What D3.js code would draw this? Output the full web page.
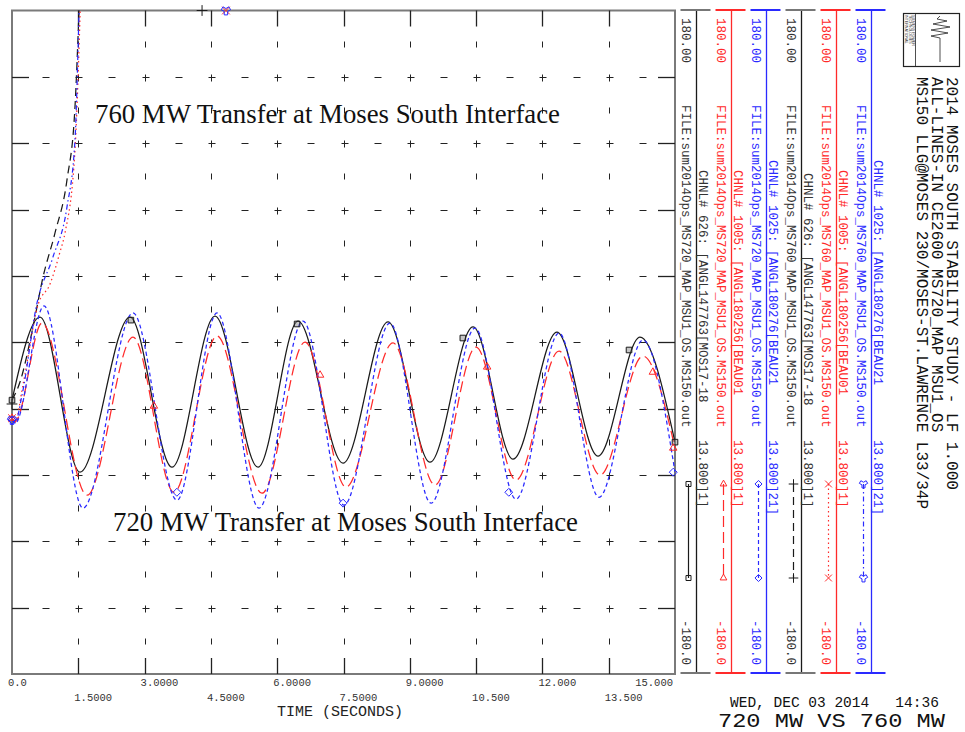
<!DOCTYPE html>
<html lang="en">
<head>
<meta charset="UTF-8" />
<title>720 MW VS 760 MW</title>
<script src="https://d3js.org/d3.v7.min.js"></script>
<style>
  body { margin: 0; background: #fff; }
  svg { display: block; }
  .mono { font-family: "Liberation Mono", "DejaVu Sans Mono", monospace; }
  .serif { font-family: "Liberation Serif", "DejaVu Serif", serif; }
</style>
</head>
<body>
<svg id="chart" width="965" height="732"></svg>
<script>
// axis ticks (seconds / degrees)
const timeTicks = [0, 1.5, 3, 4.5, 6, 7.5, 9, 10.5, 12, 13.5, 15];
const timeLabels = ["0.0", "1.5000", "3.0000", "4.5000", "6.0000", "7.5000", "9.0000", "10.500", "12.000", "13.500", "15.000"];
const angleTicks = [-180, -144, -108, -72, -36, 0, 36, 72, 108, 144, 180];

// 720 MW case - ANGL147763 (black solid)
const t720Black = [0, 0.633, 1.538, 2.670, 3.620, 4.593, 5.566, 6.471, 7.489, 8.507, 9.457, 10.430, 11.335, 12.330, 13.258, 14.208, 15.0];
const a720Black = [-31.4, 13.7, -70.5, 13.7, -67.8, 14.2, -67.8, 11.5, -65.6, 11.0, -65.1, 8.3, -63.4, 5.5, -61.8, 2.8, -54.2];
// 720 MW case - ANGL180256 (red long dash)
const t720Red = [0, 0.07, 0.679, 1.697, 2.738, 3.665, 4.638, 5.656, 6.629, 7.557, 8.620, 9.570, 10.498, 11.403, 12.376, 13.303, 14.276, 15.0];
const a720Red = [-41.2, -43.0, 10.4, -83.0, 2.8, -81.4, 3.4, -81.9, 0.1, -78.6, -0.4, -77.5, -2.6, -74.8, -4.8, -72.1, -7.5, -57.4];
// 720 MW case - ANGL180276 (blue short dash)
const t720Blue = [0, 0.07, 0.724, 1.606, 2.738, 3.733, 4.638, 5.588, 6.584, 7.511, 8.552, 9.480, 10.475, 11.403, 12.376, 13.281, 14.276, 15.0];
const a720Blue = [-42.2, -44.0, 19.7, -90.0, 15.9, -85.7, 15.9, -90.0, 11.5, -88.4, 10.4, -87.3, 7.7, -85.1, 5.0, -84.1, 1.2, -70.5];

// 760 MW case (loses synchronism)
const t760Black = [0, 0.181, 0.475, 0.701, 0.973, 1.244, 1.425, 1.516, 1.56];
const a760Black = [-31.4, -21.6, 8.3, 35.3, 59.3, 88.1, 127.7, 180, 210];
const t760Red = [0, 0.068, 0.249, 0.588, 0.860, 1.086, 1.199, 1.425, 1.538, 1.56];
const a760Red = [-41.2, -43.3, -23.0, 20.2, 31.6, 49.0, 59.3, 104.4, 176.6, 195];
const t760Blue = [0, 0.068, 0.226, 0.566, 0.928, 1.244, 1.425, 1.516, 1.54];
const a760Blue = [-42.2, -43.8, -28.8, 21.3, 46.3, 73.4, 109.8, 178.7, 200];

// channel markers
const m720BlackT = [0, 2.69, 6.45, 10.2, 13.96, 15];
const m720BlackA = [-31.4, 12.0, 9.9, 2.3, -4.2, -54.2];
const m720RedT = [0, 3.21, 6.97, 10.75, 14.5, 14.96];
const m720RedA = [-41.2, -34.6, -17.8, -13.4, -16.2, -57.4];
const m720BlueT = [0, 3.73, 7.49, 11.24, 14.96];
const m720BlueA = [-42.2, -81.4, -87.3, -81.4, -70.5];
const m760BlackT = [0, 4.30];
const m760BlackA = [-33.5, 180];
const m760RedT = [0, 4.84];
const m760RedA = [-41.2, 180];
const m760BlueT = [0, 4.84];
const m760BlueA = [-42.2, 180];

// legend text
const chnlLabels = [
  "CHNL# 626: [ANGL147763[MOS17-18",
  "CHNL# 1005: [ANGL180256[BEAU01",
  "CHNL# 1025: [ANGL180276[BEAU21",
  "CHNL# 626: [ANGL147763[MOS17-18",
  "CHNL# 1005: [ANGL180256[BEAU01",
  "CHNL# 1025: [ANGL180276[BEAU21"
];
const chnlTails = ["13.800]1]", "13.800]1]", "13.800]21]", "13.800]1]", "13.800]1]", "13.800]21]"];
const fileLabels = [
  "FILE:sum2014Ops_MS720_MAP_MSU1_OS.MS150.out",
  "FILE:sum2014Ops_MS720_MAP_MSU1_OS.MS150.out",
  "FILE:sum2014Ops_MS720_MAP_MSU1_OS.MS150.out",
  "FILE:sum2014Ops_MS760_MAP_MSU1_OS.MS150.out",
  "FILE:sum2014Ops_MS760_MAP_MSU1_OS.MS150.out",
  "FILE:sum2014Ops_MS760_MAP_MSU1_OS.MS150.out"
];
const maxLabel = "180.00";
const minLabel = "-180.0";
const titleLines = [
  "2014 MOSES SOUTH STABILITY STUDY - LF 1.000",
  "ALL-LINES-IN CE2600 MS720_MAP MSU1_OS",
  "MS150 LLG@MOSES 230/MOSES-ST.LAWRENCE L33/34P"
];
const dateText = "WED, DEC 03 2014   14:36";
const footerText = "720 MW VS 760 MW";
const upperNote = "760 MW Transfer at Moses South Interface";
const lowerNote = "720 MW Transfer at Moses South Interface";

const BLACK = "#1a1a1a", RED = "#ff2a2a", BLUE = "#2a2aff";

const series = [
  { t: t720Black, a: a720Black, mt: m720BlackT, ma: m720BlackA, color: BLACK, dash: null, sym: d3.symbolSquare2 },
  { t: t720Red, a: a720Red, mt: m720RedT, ma: m720RedA, color: RED, dash: "11,5", sym: d3.symbolTriangle2 },
  { t: t720Blue, a: a720Blue, mt: m720BlueT, ma: m720BlueA, color: BLUE, dash: "4,3", sym: d3.symbolDiamond2 },
  { t: t760Black, a: a760Black, mt: m760BlackT, ma: m760BlackA, color: BLACK, dash: "8,5", sym: d3.symbolPlus },
  { t: t760Red, a: a760Red, mt: m760RedT, ma: m760RedA, color: RED, dash: "1.5,3", sym: d3.symbolTimes },
  { t: t760Blue, a: a760Blue, mt: m760BlueT, ma: m760BlueA, color: BLUE, dash: "5,3,1.5,3", sym: d3.symbolWye }
];

const svg = d3.select("#chart");
const x = d3.scaleLinear().domain([0, 15]).range([12, 675]);
const y = d3.scaleLinear().domain([-180, 180]).range([674, 10.5]);
const px = v => Math.round(x(v)) + 0.5;
const py = v => Math.round(y(v)) + 0.5;

svg.append("clipPath").attr("id", "plotClip").append("rect")
  .attr("x", x(0)).attr("y", y(180))
  .attr("width", x(15) - x(0)).attr("height", y(-180) - y(180));

// grid marks: + at majors, - and ' at half steps
const inner = arr => arr.slice(1, -1);
const halfT = timeTicks.slice(0, -1).map((d, i) => (d + timeTicks[i + 1]) / 2);
const halfA = angleTicks.slice(0, -1).map((d, i) => (d + angleTicks[i + 1]) / 2);
const grid = svg.append("g").attr("stroke", "#222").attr("stroke-width", 1);
const seg = (g, x1, y1, x2, y2) => g.append("line")
  .attr("x1", x1).attr("y1", y1).attr("x2", x2).attr("y2", y2);

inner(timeTicks).forEach(t => inner(angleTicks).forEach(a => {
  seg(grid, px(t) - 3, py(a), px(t) + 4, py(a));
  seg(grid, px(t), py(a) - 3, px(t), py(a) + 4);
}));
halfT.forEach(t => inner(angleTicks).forEach(a => {
  seg(grid, px(t) - 3, py(a), px(t) + 4, py(a));
}));
inner(timeTicks).forEach(t => halfA.forEach(a => {
  seg(grid, px(t), py(a) - 3, px(t), py(a) + 3);
}));

// frame
svg.append("rect")
  .attr("x", x(0)).attr("y", y(180))
  .attr("width", x(15) - x(0)).attr("height", y(-180) - y(180))
  .attr("fill", "none").attr("stroke", "#7a7a7a").attr("stroke-width", 2);

// axis ticks on all four sides
const ticks = svg.append("g").attr("stroke", "#222").attr("stroke-width", 1.3);
inner(angleTicks).forEach(a => {
  seg(ticks, x(0), py(a), x(0) + 17, py(a));
  seg(ticks, x(15) - 17, py(a), x(15), py(a));
});
inner(timeTicks).forEach(t => {
  seg(ticks, px(t), y(180), px(t), y(180) + 16);
  seg(ticks, px(t), y(-180) - 16, px(t), y(-180));
});

// time labels, staggered on two rows
svg.append("g").attr("class", "mono")
  .style("font-size", "10.5px").attr("fill", "#333")
  .selectAll("text").data(timeTicks).join("text")
  .attr("x", (d, i) => i === timeTicks.length - 1 ? x(d) - 2 : x(d) - 4)
  .attr("y", (d, i) => i % 2 === 0 ? 686 : 701)
  .attr("text-anchor", (d, i) => i === timeTicks.length - 1 ? "end" : "start")
  .text((d, i) => timeLabels[i]);

svg.append("text").attr("class", "mono")
  .attr("x", 340).attr("y", 716)
  .attr("text-anchor", "middle")
  .style("font-size", "15px").attr("fill", "#222")
  .text("TIME (SECONDS)");

// curves
const line = d3.line()
  .x(d => x(d[0])).y(d => y(d[1]))
  .curve(d3.curveMonotoneX);

const curves = svg.append("g").attr("clip-path", "url(#plotClip)");
series.forEach(s => {
  curves.append("path")
    .datum(s.t.map((t, i) => [t, s.a[i]]))
    .attr("d", line)
    .attr("fill", "none")
    .attr("stroke", s.color)
    .attr("stroke-width", 1.25)
    .attr("stroke-dasharray", s.dash);
});

// markers
const markers = svg.append("g");
series.forEach(s => {
  markers.selectAll(null)
    .data(s.mt.map((t, i) => [t, s.ma[i]]))
    .join("path")
    .attr("transform", d => `translate(${x(d[0])},${y(d[1])})`)
    .attr("d", d3.symbol(s.sym, 40))
    .attr("fill", s.sym === d3.symbolSquare2 ? "rgba(128,128,128,0.45)" : "none")
    .attr("stroke", s.color)
    .attr("stroke-width", 1);
});

// annotations inside the plot
svg.append("text").attr("class", "serif")
  .attr("x", 95).attr("y", 123)
  .attr("textLength", 465).attr("lengthAdjust", "spacingAndGlyphs")
  .style("font-size", "26.5px").attr("fill", "#111")
  .text(upperNote);
svg.append("text").attr("class", "serif")
  .attr("x", 113).attr("y", 531)
  .attr("textLength", 465).attr("lengthAdjust", "spacingAndGlyphs")
  .style("font-size", "26.5px").attr("fill", "#111")
  .text(lowerNote);

// channel legend columns (text rotated to read top-down)
const legend = svg.append("g").attr("class", "mono").style("font-size", "12.5px");
const vText = (g, tx, ty, str, color) => g.append("text")
  .attr("transform", `translate(${tx},${ty}) rotate(90)`)
  .attr("fill", color).text(str);
const chnlStart = [170, 170, 160, 173, 170, 160];

series.forEach((s, i) => {
  const lx = 696.5 + i * 35;
  const g = legend.append("g");
  const textCol = s.color === BLACK ? "#333" : s.color;
  seg(g, lx, 10, lx, 673).attr("stroke", s.color).attr("stroke-width", 1.3);
  seg(g, lx - 16, 10, lx + 14, 10).attr("stroke", s.color === BLACK ? "#777" : s.color).attr("stroke-width", 2);
  seg(g, lx - 16, 673, lx + 14, 673).attr("stroke", s.color === BLACK ? "#777" : s.color).attr("stroke-width", 2);

  vText(g, lx - 15, 18, maxLabel, textCol);
  vText(g, lx - 15, 105, fileLabels[i], textCol);
  vText(g, lx - 15, 620, minLabel, textCol);
  vText(g, lx + 2, chnlStart[i], chnlLabels[i], textCol);
  vText(g, lx + 2, 440, chnlTails[i], textCol);

  // line style sample
  const sx = lx - 8;
  seg(g, sx, 484, sx, 578)
    .attr("stroke", s.color).attr("stroke-width", 1.2)
    .attr("stroke-dasharray", s.dash);
  [484, 578].forEach(yy => {
    g.append("path")
      .attr("transform", `translate(${sx},${yy})`)
      .attr("d", d3.symbol(s.sym, 32))
      .attr("fill", "none").attr("stroke", s.color).attr("stroke-width", 1);
  });
});

// study title block
const titleG = svg.append("g").attr("class", "mono").style("font-size", "16px");
titleLines.forEach((str, i) => vText(titleG, 947 - i * 15, 77, str, "#111"));

// logo box
const logo = svg.append("g");
logo.append("rect").attr("x", 903.5).attr("y", 13.5).attr("width", 56).attr("height", 53)
  .attr("fill", "none").attr("stroke", "#222").attr("stroke-width", 1.2);
logo.append("line").attr("x1", 915.5).attr("y1", 13.5).attr("x2", 915.5).attr("y2", 66.5)
  .attr("stroke", "#222").attr("stroke-width", 0.8);
logo.append("path")
  .attr("d", "M940,62 L940,38 L931,36 L948,33 L931,30 L950,27 L933,24 L947,21 L937,19 L940,16")
  .attr("fill", "none").attr("stroke", "#222").attr("stroke-width", 0.8);
["SIEMENS POWER", "TECHNOLOGIES", "INTERNATIONAL"].forEach((str, i) => {
  logo.append("text")
    .attr("transform", `translate(${912 - i * 3.3},15) rotate(90)`)
    .style("font-family", "Liberation Sans, sans-serif").style("font-size", "3.6px")
    .attr("fill", "#333").text(str);
});

// footer
svg.append("text").attr("class", "mono")
  .attr("x", 730).attr("y", 707)
  .style("font-size", "14.5px").attr("fill", "#111")
  .style("white-space", "pre")
  .text(dateText);
svg.append("text").attr("class", "mono")
  .attr("x", 718).attr("y", 727)
  .attr("textLength", 227).attr("lengthAdjust", "spacingAndGlyphs")
  .style("font-size", "21px").attr("fill", "#111")
  .text(footerText);
</script>
</body>
</html>
